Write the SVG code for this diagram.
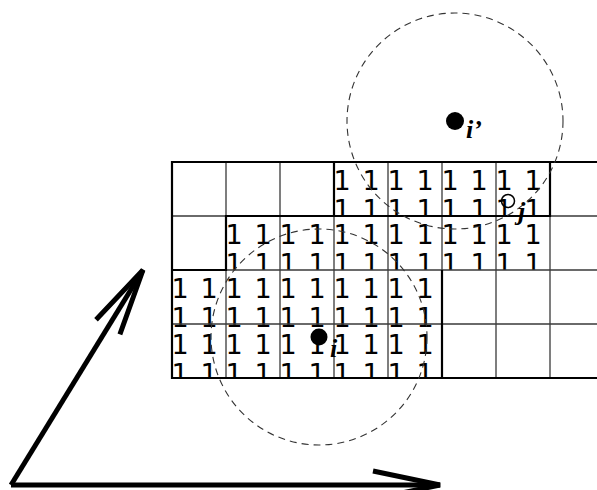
<svg xmlns="http://www.w3.org/2000/svg" width="597" height="490" viewBox="0 0 597 490">
<style>
.one{font-family:"DejaVu Sans","Liberation Sans",sans-serif;font-size:27px;fill:#000;word-spacing:3.2px}
.grid{stroke:#3a3a3a;stroke-width:1.3;fill:none}
.border{stroke:#000;stroke-width:2.2;fill:none}
.circ{fill:none;stroke:#333;stroke-width:1.1;stroke-dasharray:7 5}
.lbl{font-family:"Liberation Serif","Times New Roman",serif;font-size:26px;font-style:italic;font-weight:bold;fill:#000}
.axis{stroke:#000;stroke-width:5;fill:none;marker-end:url(#ah)}
</style>
<defs>
<clipPath id="c0"><rect x="334" y="162" width="216" height="54"/></clipPath>
<clipPath id="c1"><rect x="226" y="216" width="324" height="54"/></clipPath>
<clipPath id="c2"><rect x="172" y="270" width="270" height="108"/></clipPath>
<marker id="ah" markerUnits="userSpaceOnUse" viewBox="-75 -20 80 40" refX="0" refY="0" markerWidth="80" markerHeight="40" orient="auto" overflow="visible"><path d="M-67,-14 L0,0 L-67,14" fill="none" stroke="#000" stroke-width="5"/></marker>
</defs>

<g id="region-top" clip-path="url(#c0)">
<text class="one" x="333.5" y="190">1 1</text><text class="one" x="333.5" y="219">1 1</text>
<text class="one" x="387.5" y="190">1 1</text><text class="one" x="387.5" y="219">1 1</text>
<text class="one" x="441.5" y="190">1 1</text><text class="one" x="441.5" y="219">1 1</text>
<text class="one" x="495.5" y="190">1 1</text><text class="one" x="495.5" y="219">1 1</text>
</g>
<g id="region-middle" clip-path="url(#c1)">
<text class="one" x="225.5" y="244">1 1</text><text class="one" x="225.5" y="273">1 1</text>
<text class="one" x="279.5" y="244">1 1</text><text class="one" x="279.5" y="273">1 1</text>
<text class="one" x="333.5" y="244">1 1</text><text class="one" x="333.5" y="273">1 1</text>
<text class="one" x="387.5" y="244">1 1</text><text class="one" x="387.5" y="273">1 1</text>
<text class="one" x="441.5" y="244">1 1</text><text class="one" x="441.5" y="273">1 1</text>
<text class="one" x="495.5" y="244">1 1</text><text class="one" x="495.5" y="273">1 1</text>
</g>
<g id="region-bottom" clip-path="url(#c2)">
<text class="one" x="171.5" y="298">1 1</text><text class="one" x="171.5" y="327">1 1</text><text class="one" x="171.5" y="354">1 1</text><text class="one" x="171.5" y="383">1 1</text>
<text class="one" x="225.5" y="298">1 1</text><text class="one" x="225.5" y="327">1 1</text><text class="one" x="225.5" y="354">1 1</text><text class="one" x="225.5" y="383">1 1</text>
<text class="one" x="279.5" y="298">1 1</text><text class="one" x="279.5" y="327">1 1</text><text class="one" x="279.5" y="354">1 1</text><text class="one" x="279.5" y="383">1 1</text>
<text class="one" x="333.5" y="298">1 1</text><text class="one" x="333.5" y="327">1 1</text><text class="one" x="333.5" y="354">1 1</text><text class="one" x="333.5" y="383">1 1</text>
<text class="one" x="387.5" y="298">1 1</text><text class="one" x="387.5" y="327">1 1</text><text class="one" x="387.5" y="354">1 1</text><text class="one" x="387.5" y="383">1 1</text>
</g>

<g id="grid">
<path class="grid" d="M172,216H604 M172,270H604 M172,324H604 M226,162V378 M280,162V378 M334,162V378 M388,162V378 M442,162V378 M496,162V378 M550,162V378 M604,162V378"/>
<path class="border" d="M604,162H172V378H604"/>
<path class="border" d="M334,162H550V216H226V270H172 M334,162V216 M226,216V270 M442,270V378"/>
</g>

<g id="circle-i">
<circle class="circ" cx="319" cy="337" r="108"/>
<circle cx="319" cy="337" r="8.5" fill="#000"/>
<text class="lbl" x="330" y="357">i</text>
</g>
<g id="circle-i-prime">
<circle class="circ" cx="455" cy="121" r="108"/>
<circle cx="455" cy="121" r="9" fill="#000"/>
<text class="lbl" x="466" y="138">i’</text>
</g>
<g id="point-j">
<circle cx="508" cy="201" r="6.5" fill="none" stroke="#000" stroke-width="1.5"/>
<text class="lbl" x="518" y="220">j</text>
</g>

<g id="connectors">
<path class="axis" d="M11,485 L143,270"/>
<path class="axis" d="M11,485 L440,485"/>
</g>
</svg>
